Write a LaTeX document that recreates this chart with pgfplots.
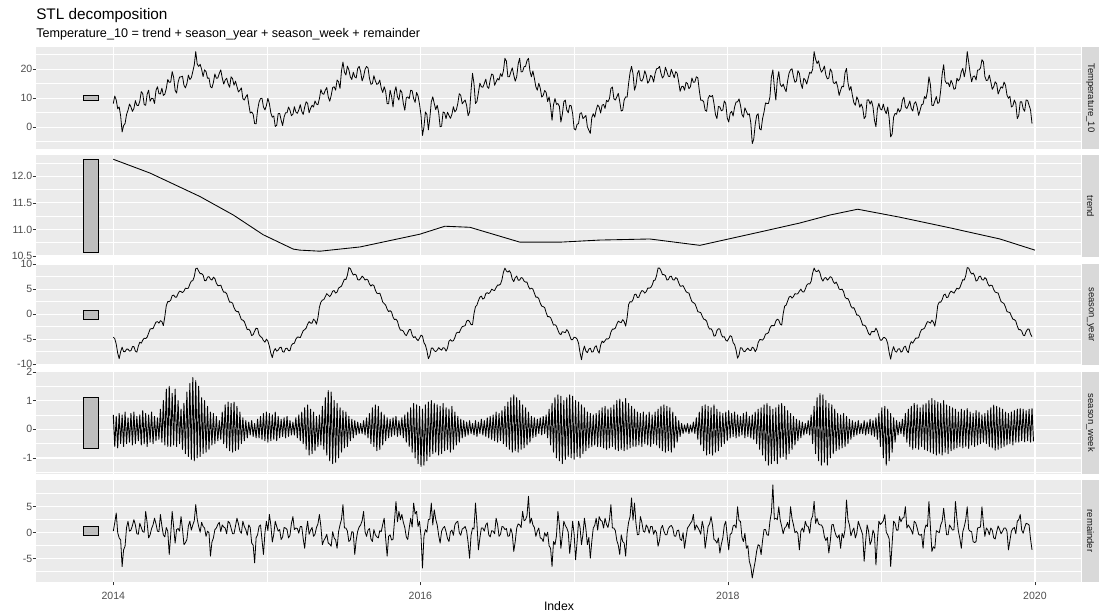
\documentclass[border=0pt]{standalone}
\usepackage{fontspec}
\setmainfont{Liberation Sans}
\usepackage{pgfplots}
\usepackage{pgfplotstable}
\pgfplotsset{compat=1.18}
\definecolor{panelbg}{HTML}{EBEBEB}
\definecolor{stripbg}{HTML}{D9D9D9}
\definecolor{barfill}{HTML}{BEBEBE}
\definecolor{ticklab}{HTML}{4D4D4D}
\definecolor{tickcol}{HTML}{333333}
\definecolor{stripfg}{HTML}{1A1A1A}

% Temperature_10, two values per week from 2014-01-01 (x in weeks = row/2)
\pgfplotstableread[row sep=\\]{v\\
8.2\\ 10.8\\ 9.4\\ 6.4\\ 7.0\\ 3.9\\ -1.6\\ 0.6\\ 1.3\\ 4.4\\
5.9\\ 8.0\\ 7.0\\ 5.5\\ 6.5\\ 9.2\\ 7.6\\ 7.5\\ 9.0\\ 12.3\\
11.6\\ 7.8\\ 7.6\\ 11.4\\ 12.8\\ 9.0\\ 10.0\\ 9.9\\ 8.2\\ 12.7\\
14.0\\ 11.6\\ 11.5\\ 13.5\\ 11.0\\ 11.4\\ 13.4\\ 16.5\\ 15.5\\ 15.6\\
19.2\\ 17.2\\ 12.8\\ 11.8\\ 15.5\\ 17.3\\ 17.4\\ 17.6\\ 14.5\\ 13.6\\
15.1\\ 18.0\\ 16.5\\ 17.1\\ 19.2\\ 21.5\\ 26.1\\ 21.8\\ 21.0\\ 21.7\\
20.0\\ 17.5\\ 19.8\\ 19.2\\ 16.9\\ 17.0\\ 14.0\\ 13.6\\ 15.5\\ 18.4\\
16.9\\ 17.0\\ 18.6\\ 19.8\\ 17.0\\ 14.9\\ 16.3\\ 16.9\\ 15.0\\ 13.8\\
17.4\\ 16.8\\ 14.5\\ 15.9\\ 14.0\\ 12.2\\ 12.8\\ 13.6\\ 9.9\\ 9.4\\
10.5\\ 11.3\\ 8.0\\ 4.9\\ 5.3\\ 4.5\\ 1.3\\ 1.2\\ 5.9\\ 8.7\\
9.9\\ 10.0\\ 7.0\\ 6.0\\ 7.5\\ 10.0\\ 8.2\\ 5.0\\ 3.5\\ 3.9\\
0.3\\ 0.7\\ 4.7\\ 4.8\\ 2.5\\ 0.6\\ 3.5\\ 5.0\\ 5.0\\ 7.0\\
5.9\\ 4.0\\ 4.5\\ 7.1\\ 5.3\\ 4.8\\ 6.0\\ 7.8\\ 5.5\\ 4.4\\
7.0\\ 8.8\\ 8.2\\ 5.0\\ 6.5\\ 7.6\\ 7.0\\ 9.1\\ 8.0\\ 7.8\\
9.9\\ 13.0\\ 11.6\\ 11.4\\ 12.8\\ 13.7\\ 10.5\\ 9.0\\ 11.0\\ 13.7\\
14.0\\ 12.8\\ 16.3\\ 15.7\\ 13.4\\ 19.5\\ 22.5\\ 19.0\\ 18.0\\ 21.1\\
19.8\\ 17.4\\ 16.5\\ 19.0\\ 17.4\\ 17.0\\ 20.3\\ 21.0\\ 19.2\\ 16.0\\
17.5\\ 20.0\\ 21.0\\ 20.5\\ 16.9\\ 14.8\\ 15.1\\ 17.8\\ 16.0\\ 14.8\\
15.1\\ 16.3\\ 13.5\\ 12.0\\ 14.0\\ 12.3\\ 8.2\\ 8.1\\ 12.8\\ 10.7\\
7.0\\ 12.1\\ 14.0\\ 10.5\\ 9.4\\ 12.9\\ 12.0\\ 8.2\\ 5.9\\ 10.2\\
10.5\\ 9.9\\ 12.8\\ 12.6\\ 9.9\\ 8.6\\ 12.0\\ 10.8\\ 8.0\\ 4.2\\
-2.8\\ 0.1\\ 5.3\\ 4.4\\ -0.9\\ 3.2\\ 8.8\\ 10.5\\ 8.2\\ 6.1\\
7.6\\ 5.1\\ 0.2\\ 0.4\\ 5.3\\ 5.0\\ 3.0\\ 5.2\\ 4.1\\ 3.1\\
4.5\\ 7.1\\ 5.3\\ 6.0\\ 8.2\\ 11.6\\ 11.0\\ 8.1\\ 8.8\\ 9.4\\
7.5\\ 4.0\\ 5.3\\ 12.8\\ 18.6\\ 15.0\\ 8.2\\ 8.9\\ 12.0\\ 15.2\\
14.0\\ 13.8\\ 15.1\\ 16.6\\ 14.0\\ 13.4\\ 16.3\\ 18.4\\ 18.0\\ 14.5\\
15.7\\ 16.8\\ 16.3\\ 18.5\\ 17.5\\ 19.5\\ 23.8\\ 22.8\\ 17.4\\ 17.4\\
19.0\\ 20.5\\ 18.0\\ 15.9\\ 17.4\\ 21.8\\ 23.8\\ 19.1\\ 19.2\\ 20.9\\
21.0\\ 23.0\\ 23.8\\ 19.4\\ 17.4\\ 19.4\\ 16.9\\ 14.0\\ 12.8\\ 15.2\\
13.5\\ 10.4\\ 11.0\\ 12.7\\ 12.0\\ 8.9\\ 10.5\\ 7.3\\ 2.4\\ 7.8\\
9.9\\ 7.9\\ 8.2\\ 7.2\\ 1.8\\ 4.5\\ 8.8\\ 9.4\\ 6.0\\ 5.0\\
7.6\\ 7.4\\ 4.7\\ -0.5\\ -0.9\\ 1.0\\ 1.3\\ 4.8\\ 5.0\\ 3.0\\
3.5\\ 4.1\\ 0.2\\ -1.0\\ -2.1\\ 3.3\\ 4.7\\ 3.5\\ 6.0\\ 7.7\\
7.0\\ 4.9\\ 7.6\\ 7.9\\ 6.5\\ 9.3\\ 8.8\\ 9.9\\ 13.4\\ 13.9\\
9.9\\ 9.4\\ 10.5\\ 11.7\\ 8.8\\ 5.6\\ 5.9\\ 9.4\\ 10.5\\ 10.4\\
15.1\\ 18.9\\ 21.0\\ 18.5\\ 12.8\\ 14.5\\ 18.6\\ 19.6\\ 16.3\\ 15.9\\
17.0\\ 19.5\\ 18.0\\ 15.2\\ 16.0\\ 17.9\\ 17.4\\ 15.6\\ 18.5\\ 20.2\\
20.3\\ 21.0\\ 18.6\\ 17.0\\ 17.8\\ 20.7\\ 19.2\\ 17.6\\ 17.5\\ 20.0\\
18.6\\ 17.1\\ 19.2\\ 18.6\\ 15.7\\ 12.4\\ 14.0\\ 14.2\\ 12.8\\ 15.5\\
15.1\\ 13.3\\ 14.0\\ 17.0\\ 15.5\\ 15.6\\ 17.4\\ 17.1\\ 12.8\\ 9.3\\
9.4\\ 8.8\\ 5.9\\ 5.5\\ 9.9\\ 11.0\\ 10.5\\ 11.0\\ 8.2\\ 4.4\\
3.0\\ 7.2\\ 7.0\\ 5.7\\ 6.0\\ 9.1\\ 8.2\\ 3.2\\ 1.8\\ 4.9\\
5.5\\ 3.9\\ 7.0\\ 8.7\\ 8.8\\ 9.8\\ 7.6\\ 4.4\\ 3.5\\ 6.7\\
5.5\\ 4.3\\ 4.7\\ 1.6\\ -5.6\\ -4.1\\ 1.0\\ 4.1\\ 4.7\\ -0.5\\
-0.9\\ 3.0\\ 5.3\\ 8.4\\ 8.2\\ 8.2\\ 10.5\\ 17.4\\ 19.8\\ 13.8\\
9.4\\ 16.3\\ 19.2\\ 14.8\\ 14.0\\ 14.9\\ 13.4\\ 12.3\\ 16.0\\ 18.7\\
19.8\\ 20.2\\ 17.4\\ 15.5\\ 16.0\\ 19.5\\ 18.6\\ 15.2\\ 13.4\\ 16.9\\
16.3\\ 14.9\\ 17.0\\ 19.0\\ 18.6\\ 20.0\\ 26.1\\ 23.5\\ 22.0\\ 22.9\\
20.5\\ 19.0\\ 19.8\\ 21.1\\ 18.0\\ 16.7\\ 17.0\\ 20.1\\ 19.2\\ 15.4\\
15.1\\ 15.8\\ 14.0\\ 11.0\\ 12.8\\ 14.2\\ 14.0\\ 18.8\\ 20.3\\ 15.4\\
12.8\\ 14.1\\ 11.0\\ 8.5\\ 7.6\\ 10.5\\ 9.4\\ 6.9\\ 8.0\\ 6.7\\
3.0\\ 3.8\\ 9.4\\ 9.5\\ 8.0\\ 9.1\\ 7.0\\ 2.4\\ 0.2\\ 6.4\\
8.2\\ 6.3\\ 6.0\\ 8.0\\ 5.9\\ 4.7\\ 7.0\\ 3.1\\ -3.3\\ -2.3\\
3.5\\ 4.8\\ 4.5\\ 6.5\\ 5.3\\ 6.2\\ 9.4\\ 10.4\\ 7.0\\ 6.5\\
7.6\\ 9.1\\ 6.5\\ 5.6\\ 8.2\\ 8.8\\ 7.0\\ 4.1\\ 5.9\\ 7.8\\
8.0\\ 10.6\\ 9.9\\ 12.5\\ 17.4\\ 14.7\\ 7.6\\ 7.5\\ 9.0\\ 10.6\\
8.2\\ 8.7\\ 12.8\\ 18.4\\ 21.6\\ 16.0\\ 15.1\\ 15.4\\ 14.0\\ 16.2\\
15.1\\ 13.1\\ 13.4\\ 16.9\\ 16.0\\ 16.8\\ 19.2\\ 20.3\\ 17.4\\ 20.0\\
26.1\\ 22.5\\ 18.6\\ 15.7\\ 17.5\\ 17.7\\ 16.3\\ 19.7\\ 19.8\\ 20.4\\
23.3\\ 22.6\\ 17.5\\ 16.1\\ 16.3\\ 18.0\\ 15.7\\ 13.1\\ 14.0\\ 15.7\\
15.0\\ 11.5\\ 12.8\\ 14.0\\ 13.5\\ 15.6\\ 14.5\\ 11.1\\ 10.0\\ 10.7\\
7.0\\ 7.4\\ 9.4\\ 8.2\\ 3.0\\ 4.1\\ 8.8\\ 8.8\\ 6.4\\ 5.5\\
9.4\\ 9.3\\ 7.6\\ 6.0\\ 1.3\\
}\Ttab

% season_year, two values per week
\pgfplotstableread[row sep=\\]{v\\
-4.6\\ -4.9\\ -6.0\\ -7.8\\ -8.9\\ -7.5\\ -6.6\\ -7.5\\ -7.5\\ -7.0\\
-7.0\\ -7.4\\ -7.3\\ -6.5\\ -6.5\\ -7.4\\ -7.6\\ -6.4\\ -5.6\\ -5.8\\
-5.2\\ -4.8\\ -4.9\\ -4.6\\ -3.8\\ -3.0\\ -2.9\\ -2.9\\ -2.2\\ -1.6\\
-1.5\\ -1.8\\ -1.3\\ -1.5\\ -2.3\\ -0.5\\ 1.7\\ 2.5\\ 2.5\\ 2.8\\
3.7\\ 3.8\\ 3.4\\ 3.4\\ 4.1\\ 4.6\\ 4.5\\ 4.3\\ 4.6\\ 5.2\\
5.1\\ 5.2\\ 6.0\\ 6.6\\ 6.7\\ 7.5\\ 9.1\\ 9.2\\ 8.6\\ 8.1\\
8.1\\ 7.8\\ 6.7\\ 6.7\\ 7.4\\ 7.5\\ 7.0\\ 6.8\\ 7.4\\ 7.1\\
6.2\\ 5.7\\ 5.7\\ 5.8\\ 5.0\\ 4.4\\ 4.4\\ 4.1\\ 3.2\\ 2.4\\
2.4\\ 2.2\\ 1.3\\ 0.7\\ 0.5\\ 0.5\\ -0.3\\ -1.1\\ -1.2\\ -1.5\\
-2.3\\ -3.1\\ -3.0\\ -3.4\\ -4.3\\ -4.1\\ -3.4\\ -2.8\\ -2.9\\ -4.1\\
-4.5\\ -4.7\\ -5.3\\ -5.6\\
-5.0\\ -5.4\\ -6.4\\ -7.8\\ -8.7\\ -7.4\\ -6.9\\ -7.4\\ -7.2\\ -6.7\\
-6.6\\ -7.5\\ -7.6\\ -6.9\\ -6.8\\ -7.3\\ -7.3\\ -6.2\\ -5.9\\ -5.8\\
-5.0\\ -4.6\\ -4.6\\ -4.7\\ -4.0\\ -3.3\\ -3.1\\ -2.8\\ -2.0\\ -1.5\\
-1.8\\ -1.8\\ -1.0\\ -1.3\\ -2.0\\ -0.7\\ 1.4\\ 2.4\\ 2.8\\ 2.9\\
3.5\\ 4.1\\ 3.8\\ 3.5\\ 3.9\\ 4.6\\ 4.7\\ 4.2\\ 4.4\\ 5.2\\
5.4\\ 5.6\\ 6.3\\ 7.0\\ 6.9\\ 7.8\\ 9.3\\ 9.1\\ 8.4\\ 7.8\\
8.0\\ 7.8\\ 6.9\\ 6.8\\ 7.1\\ 7.6\\ 7.3\\ 6.8\\ 7.0\\ 6.8\\
6.0\\ 5.6\\ 5.9\\ 5.7\\ 4.8\\ 4.2\\ 4.1\\ 4.2\\ 3.4\\ 2.4\\
2.1\\ 1.8\\ 1.0\\ 0.5\\ 0.7\\ 0.4\\ -0.6\\ -1.1\\ -1.0\\ -1.4\\
-2.5\\ -3.2\\ -3.2\\ -3.4\\ -4.0\\ -4.3\\ -3.7\\ -3.1\\ -3.1\\ -4.2\\
-4.7\\ -4.5\\ -5.0\\ -5.3\\
-4.8\\ -4.2\\ -4.4\\ -5.7\\ -6.2\\ -7.3\\ -8.9\\ -8.3\\ -6.8\\ -6.8\\
-7.3\\ -7.5\\ -7.2\\ -6.7\\ -7.0\\ -7.2\\ -6.7\\ -6.8\\ -7.4\\ -6.8\\
-5.4\\ -5.1\\ -5.4\\ -5.3\\ -4.7\\ -3.8\\ -3.6\\ -3.7\\ -3.0\\ -2.5\\
-2.4\\ -2.3\\ -1.4\\ -1.2\\ -1.5\\ -2.1\\ -2.1\\ 0.1\\ 1.5\\ 1.8\\
2.7\\ 3.4\\ 3.6\\ 3.0\\ 3.2\\ 4.1\\ 4.3\\ 4.1\\ 4.4\\ 5.0\\
4.8\\ 4.7\\ 5.3\\ 5.8\\ 5.8\\ 6.0\\ 6.9\\ 8.4\\ 9.2\\ 8.6\\
8.4\\ 8.7\\ 8.2\\ 7.0\\ 6.5\\ 7.3\\ 7.6\\ 6.8\\ 6.8\\ 7.3\\
7.2\\ 6.6\\ 6.4\\ 6.4\\ 5.5\\ 5.0\\ 5.2\\ 5.0\\ 4.2\\ 3.4\\
3.4\\ 3.1\\ 2.2\\ 1.6\\ 1.5\\ 1.3\\ 0.3\\ -0.5\\ -0.5\\ -0.7\\
-1.4\\ -2.2\\ -2.1\\ -2.4\\ -3.2\\ -3.9\\ -4.1\\ -3.5\\ -3.6\\ -3.7\\
-3.1\\ -3.5\\ -4.3\\ -5.1\\ -5.1\\ -4.6\\
-4.7\\ -5.0\\ -5.8\\ -7.7\\ -9.1\\ -7.4\\ -6.4\\ -7.4\\ -7.7\\ -7.0\\
-6.8\\ -7.6\\ -7.5\\ -6.6\\ -6.3\\ -7.3\\ -7.8\\ -6.2\\ -5.4\\ -5.7\\
-5.3\\ -4.9\\ -5.0\\ -4.7\\ -3.6\\ -3.0\\ -3.0\\ -2.8\\ -2.0\\ -1.4\\
-1.6\\ -1.7\\ -1.1\\ -1.5\\ -2.4\\ -0.7\\ 1.9\\ 2.5\\ 2.4\\ 2.9\\
3.9\\ 4.0\\ 3.3\\ 3.4\\ 4.2\\ 4.7\\ 4.6\\ 4.2\\ 4.5\\ 5.2\\
5.2\\ 5.3\\ 5.8\\ 6.7\\ 6.8\\ 7.7\\ 9.2\\ 9.2\\ 8.7\\ 7.9\\
7.9\\ 7.7\\ 6.8\\ 6.9\\ 7.5\\ 7.6\\ 6.9\\ 6.8\\ 7.3\\ 7.1\\
6.3\\ 5.6\\ 5.6\\ 5.7\\ 5.1\\ 4.5\\ 4.3\\ 4.2\\ 3.3\\ 2.5\\
2.3\\ 2.1\\ 1.4\\ 0.5\\ 0.4\\ 0.3\\ -0.4\\ -1.0\\ -1.1\\ -1.4\\
-2.4\\ -3.0\\ -2.9\\ -3.4\\ -4.4\\ -4.3\\ -3.3\\ -2.9\\ -3.0\\ -4.1\\
-4.6\\ -4.5\\ -5.2\\ -5.4\\
-4.9\\ -4.3\\ -4.5\\ -5.7\\ -6.1\\ -7.2\\ -8.8\\ -8.2\\ -6.7\\ -6.8\\
-7.4\\ -7.5\\ -7.1\\ -6.8\\ -7.2\\ -7.3\\ -6.6\\ -6.8\\ -7.5\\ -7.0\\
-5.7\\ -5.1\\ -5.1\\ -5.2\\ -4.8\\ -4.0\\ -3.9\\ -3.7\\ -2.8\\ -2.3\\
-2.3\\ -2.3\\ -1.4\\ -1.0\\ -1.2\\ -2.0\\ -2.2\\ 0.1\\ 1.6\\ 1.8\\
2.6\\ 3.4\\ 3.6\\ 3.2\\ 3.5\\ 4.1\\ 4.0\\ 4.1\\ 4.6\\ 5.0\\
4.5\\ 4.4\\ 5.0\\ 5.8\\ 6.1\\ 6.0\\ 6.6\\ 8.2\\ 9.2\\ 8.6\\
8.5\\ 8.8\\ 8.2\\ 7.1\\ 6.6\\ 7.2\\ 7.3\\ 6.8\\ 7.1\\ 7.5\\
7.3\\ 6.5\\ 6.1\\ 6.4\\ 5.8\\ 5.0\\ 4.9\\ 5.0\\ 4.5\\ 3.4\\
3.1\\ 3.1\\ 2.5\\ 1.6\\ 1.2\\ 1.3\\ 0.6\\ -0.2\\ -0.2\\ -0.5\\
-1.3\\ -2.2\\ -2.2\\ -2.4\\ -3.1\\ -3.9\\ -4.2\\ -3.5\\ -3.5\\ -3.5\\
-2.8\\ -3.4\\ -4.4\\ -5.2\\ -5.2\\ -4.7\\
-4.7\\ -5.0\\ -5.9\\ -7.7\\ -9.0\\ -7.4\\ -6.5\\ -7.4\\ -7.6\\ -7.0\\
-6.9\\ -7.6\\ -7.4\\ -6.6\\ -6.4\\ -7.3\\ -7.7\\ -6.2\\ -5.5\\ -5.8\\
-5.3\\ -4.8\\ -4.8\\ -4.7\\ -3.7\\ -3.1\\ -3.0\\ -2.8\\ -2.1\\ -1.5\\
-1.6\\ -1.8\\ -1.2\\ -1.6\\ -2.4\\ -0.7\\ 1.8\\ 2.4\\ 2.4\\ 2.9\\
3.8\\ 4.0\\ 3.3\\ 3.4\\ 4.2\\ 4.6\\ 4.4\\ 4.2\\ 4.7\\ 5.2\\
5.0\\ 5.3\\ 6.1\\ 6.9\\ 6.8\\ 7.7\\ 9.3\\ 9.2\\ 8.5\\ 8.0\\
8.2\\ 7.7\\ 6.6\\ 6.8\\ 7.5\\ 7.6\\ 6.9\\ 6.8\\ 7.3\\ 7.0\\
6.1\\ 5.6\\ 5.8\\ 5.7\\ 4.9\\ 4.4\\ 4.3\\ 4.2\\ 3.3\\ 2.5\\
2.3\\ 2.1\\ 1.4\\ 0.5\\ 0.4\\ 0.3\\ -0.4\\ -1.0\\ -1.1\\ -1.4\\
-2.4\\ -3.1\\ -3.1\\ -3.4\\ -4.2\\ -4.3\\ -3.5\\ -3.0\\ -3.0\\ -4.0\\
-4.5\\
}\Stab

% remainder, two values per week
\pgfplotstableread[row sep=\\]{v\\
0.3\\ 1.9\\ 3.8\\ 0.0\\ -1.0\\ -1.4\\ -6.5\\ -3.3\\ -2.6\\ 1.0\\
2.2\\ 0.3\\ 0.5\\ 1.4\\ 2.5\\ 1.5\\ -0.2\\ -0.3\\ 1.8\\ 1.0\\
0.2\\ 0.1\\ 4.1\\ 1.9\\ -1.0\\ -0.4\\ 0.8\\ 1.5\\ 2.8\\ 1.7\\
0.3\\ 0.2\\ 3.5\\ 1.3\\ -0.4\\ -0.8\\ 1.0\\ 0.3\\ -4.2\\ -0.4\\
4.1\\ 1.1\\ -2.0\\ 0.6\\ 0.8\\ 0.3\\ 3.1\\ 0.7\\ -2.3\\ -1.9\\
-1.3\\ 1.3\\ 2.2\\ 0.5\\ 1.5\\ 2.3\\ 5.4\\ 2.6\\ 1.2\\ 0.1\\
2.0\\ 1.2\\ 0.9\\ -0.7\\ 0.3\\ 0.0\\ -4.5\\ -1.8\\ -1.0\\ 0.6\\
0.9\\ 1.6\\ 2.0\\ 0.2\\ 1.5\\ 1.1\\ 0.9\\ -0.2\\ 2.2\\ 1.9\\
0.9\\ -0.2\\ -0.2\\ 1.3\\ 2.8\\ 1.7\\ 0.3\\ -0.1\\ 2.2\\ 1.2\\
0.6\\ -0.5\\ 1.5\\ 1.0\\ -2.0\\ -2.4\\ -5.8\\ -1.0\\ -0.4\\ 1.2\\
1.5\\ -1.4\\ -4.2\\ 0.0\\ 2.2\\ 0.4\\ 3.5\\ 1.5\\ -1.8\\ -0.3\\
2.2\\ 1.2\\ 0.3\\ 0.6\\ -1.3\\ -0.8\\ 1.0\\ 0.9\\ 0.6\\ -1.0\\
-0.5\\ 1.8\\ 3.1\\ 0.6\\ 0.9\\ 0.8\\ -0.1\\ 1.2\\ 1.2\\ -1.2\\
-3.0\\ 0.3\\ 2.2\\ -0.3\\ 0.5\\ 1.0\\ -0.7\\ -0.3\\ 1.0\\ 1.7\\
3.5\\ 1.2\\ -2.3\\ -1.5\\ -1.0\\ -0.3\\ -2.0\\ -2.2\\ -2.6\\ 0.2\\
-1.0\\ -1.4\\ -3.0\\ 0.2\\ 1.5\\ 2.6\\ 5.4\\ 0.9\\ 0.9\\ 0.3\\
-1.7\\ -1.4\\ 0.2\\ 0.1\\ -4.2\\ -1.4\\ 0.3\\ 1.1\\ 1.5\\ 2.3\\
4.1\\ 0.2\\ -0.7\\ 0.5\\ 0.8\\ -1.2\\ -1.7\\ 0.6\\ -0.4\\ -0.8\\
-1.0\\ 0.4\\ 0.2\\ 1.6\\ 2.8\\ -1.1\\ -4.5\\ -0.7\\ -0.4\\ -1.4\\
-1.3\\ 2.3\\ 6.0\\ 2.1\\ 4.1\\ 2.5\\ 3.5\\ 2.0\\ 1.0\\ -0.8\\
-1.3\\ 0.9\\ 2.8\\ 1.1\\ 5.7\\ 3.6\\ 4.1\\ 1.2\\ 2.2\\ -0.6\\
-6.8\\ -0.7\\ 0.6\\ 0.1\\ 2.5\\ 2.6\\ 5.7\\ 1.5\\ 4.4\\ 2.6\\
1.5\\ -0.5\\ -2.0\\ 0.3\\ 0.9\\ 1.2\\ 0.2\\ -1.1\\ -1.7\\ 0.2\\
0.5\\ -0.5\\ 1.5\\ 2.0\\ 2.2\\ 0.0\\ -0.5\\ 0.7\\ 0.9\\ 1.2\\
0.3\\ -1.9\\ -4.9\\ -0.5\\ 0.9\\ 0.7\\ 5.7\\ 1.7\\ -3.3\\ -1.0\\
0.9\\ 0.9\\ 0.3\\ 1.5\\ 1.9\\ -0.4\\ -0.8\\ 0.4\\ 0.3\\ -0.2\\
2.8\\ 1.6\\ -0.7\\ -0.3\\ 1.2\\ 1.1\\ 0.6\\ 0.8\\ -0.7\\ -0.6\\
0.8\\ -0.2\\ -3.6\\ -1.7\\ 0.9\\ 1.7\\ 1.5\\ 1.0\\ 4.1\\ 2.3\\
2.5\\ 3.3\\ 7.0\\ 1.8\\ 2.8\\ 1.5\\ 1.0\\ -0.7\\ 0.3\\ 0.9\\
-1.0\\ -1.1\\ -1.7\\ 0.0\\ -0.7\\ 0.1\\ -2.5\\ -3.0\\ -6.5\\ -1.7\\
-2.3\\ -0.6\\ 4.1\\ 1.4\\ -3.0\\ -0.6\\ 2.2\\ 1.4\\ 0.9\\ 0.1\\
-4.0\\ -1.2\\ 2.2\\ -0.3\\ -5.2\\ -1.8\\ 2.2\\ 1.1\\ -2.3\\ -0.3\\
2.8\\ 0.7\\ -2.3\\ -0.9\\ -4.9\\ -1.7\\ 0.9\\ 1.4\\ 2.8\\ 0.5\\
3.1\\ 2.4\\ 2.2\\ 0.9\\ 2.8\\ 1.6\\ 1.0\\ 2.5\\ 5.4\\ 0.9\\
0.9\\ 0.4\\ -1.5\\ -2.4\\ -4.2\\ -0.4\\ -1.7\\ -2.0\\ -4.5\\ 0.0\\
2.0\\ 3.1\\ 6.7\\ 2.4\\ 5.7\\ 1.8\\ -0.4\\ -0.3\\ 3.1\\ 2.0\\
0.3\\ 0.1\\ 1.5\\ 1.0\\ -0.1\\ 1.2\\ 1.2\\ -0.3\\ 0.5\\ 0.0\\
-2.6\\ -1.5\\ 0.8\\ 1.4\\ 0.3\\ -0.4\\ -0.4\\ 0.8\\ 1.2\\ 1.4\\
0.9\\ -0.6\\ -0.7\\ 0.4\\ 0.5\\ -1.2\\ -1.5\\ 0.0\\ -3.0\\ -0.9\\
0.9\\ 1.3\\ 1.8\\ 2.2\\ 3.5\\ 0.5\\ 1.5\\ 1.0\\ 0.5\\ -0.3\\
2.2\\ 0.9\\ -3.0\\ -0.9\\ 1.2\\ 1.7\\ 3.1\\ 1.4\\ -1.3\\ -1.5\\
-2.0\\ -1.0\\ -3.9\\ -2.2\\ -1.0\\ 1.4\\ 2.2\\ -0.7\\ -3.3\\ -0.3\\
-0.1\\ 1.3\\ 1.5\\ 0.9\\ 5.0\\ 2.3\\ 2.2\\ -0.9\\ -1.7\\ -0.1\\
-3.0\\ -2.5\\ -5.5\\ -6.5\\ -8.7\\ -7.0\\ -5.5\\ -3.5\\ -2.3\\ -2.5\\
-4.2\\ -1.5\\ 0.6\\ 0.6\\ -0.4\\ -0.5\\ 2.2\\ 3.9\\ 9.2\\ 2.6\\
2.8\\ 2.5\\ 5.0\\ 2.4\\ 1.2\\ -0.2\\ 0.9\\ 1.2\\ 2.0\\ 0.8\\
5.0\\ 2.7\\ 1.5\\ 0.0\\ 0.3\\ -0.2\\ -3.3\\ 0.3\\ 0.9\\ 0.1\\
2.2\\ 1.3\\ 1.2\\ -0.1\\ 2.5\\ 3.2\\ 6.0\\ 1.8\\ 2.8\\ 1.7\\
1.5\\ 1.5\\ 0.9\\ -0.8\\ -1.5\\ -0.9\\ -3.9\\ -1.6\\ 1.5\\ 1.6\\
0.3\\ -0.6\\ -1.0\\ -0.4\\ -3.0\\ -0.1\\ -1.0\\ 0.6\\ 6.3\\ 2.5\\
1.5\\ -0.6\\ 0.3\\ 0.9\\ -1.0\\ -0.1\\ 2.2\\ 1.3\\ 0.5\\ -0.4\\
-5.5\\ -1.7\\ 1.5\\ 0.3\\ -2.3\\ -1.5\\ 0.5\\ -0.3\\ -6.2\\ -1.4\\
2.2\\ 1.6\\ 1.9\\ 2.3\\ 3.5\\ 0.1\\ -0.4\\ -1.2\\ -6.5\\ -2.1\\
2.2\\ 1.8\\ 0.5\\ 0.5\\ 3.1\\ 2.1\\ 2.8\\ 2.9\\ 5.0\\ 0.9\\
1.5\\ 1.0\\ 0.5\\ -0.3\\ 2.2\\ 1.9\\ 0.9\\ -0.3\\ -0.5\\ -0.3\\
-3.0\\ 0.5\\ 1.5\\ 1.2\\ 6.0\\ 1.1\\ -3.6\\ -2.7\\ -3.0\\ 0.4\\
0.2\\ 0.0\\ 1.5\\ 2.2\\ 4.7\\ 2.0\\ -0.4\\ -0.4\\ 1.5\\ 1.0\\
0.5\\ 0.6\\ 6.0\\ 2.7\\ 0.3\\ -1.1\\ -3.0\\ 0.2\\ 1.2\\ 2.5\\
5.0\\ 0.6\\ 0.3\\ 0.2\\ -1.7\\ -1.9\\ -1.7\\ 0.9\\ 1.0\\ 1.1\\
5.0\\ 1.7\\ -0.7\\ 0.9\\ 0.5\\ -0.4\\ 0.9\\ 0.5\\ -1.0\\ -1.2\\
0.2\\ 1.3\\ 0.6\\ -0.2\\ 0.3\\ 0.9\\ 0.9\\ 0.3\\ -3.3\\ -1.5\\
0.3\\ 0.8\\ 1.0\\ -0.2\\ 2.2\\ 2.5\\ 3.5\\ 0.5\\ -0.1\\ 1.0\\
1.8\\ 1.7\\ 1.5\\ -1.2\\ -3.3\\
}\Rtab

% season_week, two values per week (high, low)
\pgfplotstableread[row sep=\\]{v\\
0.5\\ -0.6\\ 0.45\\ -0.65\\ 0.55\\ -0.5\\ 0.5\\ -0.6\\ 0.6\\ -0.5\\ 0.4\\ -0.45\\ 0.55\\ -0.55\\ 0.6\\ -0.5\\ 0.45\\ -0.4\\ 0.5\\ -0.55\\
0.65\\ -0.5\\ 0.55\\ -0.6\\ 0.5\\ -0.45\\ 0.6\\ -0.5\\ 0.45\\ -0.4\\ 0.4\\ -0.35\\ 0.7\\ -0.45\\ 1.0\\ -0.55\\ 1.4\\ -0.6\\ 1.5\\ -0.6\\
1.25\\ -0.55\\ 1.4\\ -0.6\\ 1.0\\ -0.5\\ 0.7\\ -0.7\\ 0.9\\ -0.85\\ 1.3\\ -0.95\\ 1.6\\ -1.05\\ 1.8\\ -1.1\\ 1.7\\ -1.0\\ 1.5\\ -0.95\\
1.1\\ -0.85\\ 1.0\\ -0.8\\ 0.8\\ -0.7\\ 0.6\\ -0.55\\ 0.55\\ -0.5\\ 0.45\\ -0.4\\ 0.3\\ -0.35\\ 0.6\\ -0.5\\ 0.85\\ -0.65\\ 0.95\\ -0.75\\
0.9\\ -0.8\\ 0.95\\ -0.75\\ 0.8\\ -0.7\\ 0.6\\ -0.5\\ 0.4\\ -0.4\\ 0.3\\ -0.3\\ 0.25\\ -0.2\\ 0.3\\ -0.25\\ 0.2\\ -0.3\\ 0.35\\ -0.3\\
0.45\\ -0.35\\ 0.55\\ -0.4\\ 0.6\\ -0.45\\ 0.55\\ -0.4\\ 0.5\\ -0.35\\ 0.6\\ -0.4\\ 0.45\\ -0.3\\ 0.35\\ -0.25\\ 0.4\\ -0.3\\ 0.45\\ -0.25\\
0.3\\ -0.2\\ 0.25\\ -0.2\\ 0.4\\ -0.3\\ 0.5\\ -0.4\\ 0.6\\ -0.5\\ 0.75\\ -0.7\\ 0.85\\ -0.9\\ 0.7\\ -0.85\\ 0.6\\ -0.75\\ 0.45\\ -0.6\\
0.5\\ -0.55\\ 0.8\\ -0.7\\ 1.1\\ -0.9\\ 1.35\\ -1.1\\ 1.3\\ -1.2\\ 1.0\\ -1.15\\ 0.9\\ -1.0\\ 0.75\\ -0.8\\ 0.65\\ -0.65\\ 0.6\\ -0.6\\
0.45\\ -0.4\\ 0.35\\ -0.3\\ 0.3\\ -0.2\\ 0.25\\ -0.15\\ 0.2\\ -0.15\\ 0.3\\ -0.2\\ 0.4\\ -0.3\\ 0.55\\ -0.5\\ 0.75\\ -0.6\\ 0.85\\ -0.75\\
0.8\\ -0.7\\ 0.6\\ -0.55\\ 0.5\\ -0.4\\ 0.4\\ -0.3\\ 0.35\\ -0.25\\ 0.4\\ -0.2\\ 0.45\\ -0.25\\ 0.3\\ -0.2\\ 0.4\\ -0.3\\ 0.5\\ -0.45\\
0.6\\ -0.6\\ 0.75\\ -0.8\\ 0.9\\ -1.0\\ 0.85\\ -1.2\\ 0.8\\ -1.3\\ 0.7\\ -1.25\\ 0.85\\ -1.1\\ 0.95\\ -0.95\\ 1.0\\ -0.85\\ 0.9\\ -0.8\\
0.85\\ -0.9\\ 0.8\\ -0.85\\ 0.9\\ -0.75\\ 0.75\\ -0.7\\ 0.7\\ -0.8\\ 0.8\\ -0.7\\ 0.6\\ -0.55\\ 0.45\\ -0.45\\ 0.35\\ -0.3\\ 0.3\\ -0.25\\
0.25\\ -0.2\\ 0.3\\ -0.15\\ 0.2\\ -0.2\\ 0.3\\ -0.25\\ 0.25\\ -0.15\\ 0.35\\ -0.2\\ 0.3\\ -0.25\\ 0.4\\ -0.3\\ 0.45\\ -0.35\\ 0.5\\ -0.4\\
0.6\\ -0.45\\ 0.55\\ -0.4\\ 0.65\\ -0.5\\ 0.8\\ -0.6\\ 0.95\\ -0.7\\ 1.1\\ -0.8\\ 1.2\\ -0.75\\ 1.1\\ -0.8\\ 1.0\\ -0.7\\ 0.85\\ -0.65\\
0.75\\ -0.55\\ 0.6\\ -0.45\\ 0.45\\ -0.3\\ 0.4\\ -0.25\\ 0.35\\ -0.15\\ 0.4\\ -0.2\\ 0.45\\ -0.15\\ 0.5\\ -0.3\\ 0.7\\ -0.55\\ 0.9\\ -0.8\\
1.1\\ -1.0\\ 1.2\\ -1.1\\ 1.15\\ -1.2\\ 1.0\\ -1.05\\ 1.1\\ -0.95\\ 1.2\\ -1.0\\ 1.15\\ -1.05\\ 1.0\\ -0.95\\ 0.95\\ -1.0\\ 0.85\\ -0.85\\
0.75\\ -0.75\\ 0.6\\ -0.65\\ 0.55\\ -0.6\\ 0.5\\ -0.55\\ 0.55\\ -0.6\\ 0.65\\ -0.6\\ 0.75\\ -0.65\\ 0.8\\ -0.7\\ 0.7\\ -0.65\\ 0.75\\ -0.6\\
0.85\\ -0.7\\ 1.0\\ -0.75\\ 1.05\\ -0.7\\ 0.95\\ -0.75\\ 1.07\\ -0.7\\ 0.9\\ -0.65\\ 0.8\\ -0.6\\ 0.7\\ -0.6\\ 0.6\\ -0.55\\ 0.55\\ -0.6\\
0.6\\ -0.5\\ 0.5\\ -0.55\\ 0.6\\ -0.6\\ 0.5\\ -0.5\\ 0.6\\ -0.55\\ 0.7\\ -0.65\\ 0.8\\ -0.75\\ 0.85\\ -0.8\\ 0.8\\ -0.75\\ 0.75\\ -0.8\\
0.6\\ -0.65\\ 0.45\\ -0.45\\ 0.3\\ -0.25\\ 0.2\\ -0.15\\ 0.15\\ -0.1\\ 0.2\\ -0.15\\ 0.15\\ -0.1\\ 0.25\\ -0.15\\ 0.4\\ -0.35\\ 0.6\\ -0.55\\
0.8\\ -0.75\\ 0.85\\ -0.9\\ 0.8\\ -0.85\\ 0.75\\ -0.9\\ 0.85\\ -0.8\\ 0.7\\ -0.75\\ 0.6\\ -0.6\\ 0.55\\ -0.5\\ 0.6\\ -0.4\\ 0.65\\ -0.3\\
0.55\\ -0.25\\ 0.6\\ -0.3\\ 0.5\\ -0.25\\ 0.45\\ -0.2\\ 0.55\\ -0.3\\ 0.6\\ -0.25\\ 0.45\\ -0.3\\ 0.5\\ -0.35\\ 0.6\\ -0.5\\ 0.7\\ -0.7\\
0.75\\ -0.9\\ 0.85\\ -1.1\\ 0.9\\ -1.25\\ 0.8\\ -1.2\\ 0.7\\ -1.1\\ 0.75\\ -1.2\\ 0.85\\ -1.0\\ 0.9\\ -0.95\\ 0.8\\ -1.05\\ 0.65\\ -0.85\\
0.55\\ -0.7\\ 0.45\\ -0.55\\ 0.35\\ -0.4\\ 0.3\\ -0.3\\ 0.25\\ -0.2\\ 0.2\\ -0.15\\ 0.3\\ -0.2\\ 0.5\\ -0.5\\ 0.8\\ -0.85\\ 1.1\\ -1.1\\
1.24\\ -1.25\\ 1.2\\ -1.15\\ 1.0\\ -1.25\\ 0.9\\ -1.0\\ 0.85\\ -0.85\\ 0.7\\ -0.75\\ 0.55\\ -0.7\\ 0.5\\ -0.65\\ 0.55\\ -0.6\\ 0.45\\ -0.5\\
0.35\\ -0.35\\ 0.3\\ -0.25\\ 0.25\\ -0.2\\ 0.3\\ -0.15\\ 0.2\\ -0.15\\ 0.3\\ -0.2\\ 0.25\\ -0.15\\ 0.35\\ -0.2\\ 0.3\\ -0.25\\ 0.4\\ -0.35\\
0.55\\ -0.6\\ 0.75\\ -1.0\\ 0.8\\ -1.25\\ 0.7\\ -1.1\\ 0.55\\ -0.8\\ 0.4\\ -0.45\\ 0.3\\ -0.2\\ 0.25\\ -0.15\\ 0.35\\ -0.25\\ 0.55\\ -0.45\\
0.7\\ -0.6\\ 0.8\\ -0.7\\ 0.9\\ -0.65\\ 0.85\\ -0.7\\ 0.75\\ -0.6\\ 0.85\\ -0.7\\ 0.9\\ -0.75\\ 1.0\\ -0.8\\ 1.07\\ -0.85\\ 1.0\\ -0.9\\
0.95\\ -0.85\\ 0.9\\ -0.9\\ 1.0\\ -0.8\\ 0.85\\ -0.85\\ 0.8\\ -0.75\\ 0.75\\ -0.7\\ 0.7\\ -0.65\\ 0.6\\ -0.6\\ 0.7\\ -0.65\\ 0.65\\ -0.6\\
0.72\\ -0.67\\ 0.6\\ -0.55\\ 0.55\\ -0.6\\ 0.65\\ -0.55\\ 0.6\\ -0.5\\ 0.5\\ -0.45\\ 0.55\\ -0.5\\ 0.65\\ -0.6\\ 0.75\\ -0.65\\ 0.84\\ -0.73\\
0.8\\ -0.7\\ 0.75\\ -0.65\\ 0.7\\ -0.6\\ 0.6\\ -0.55\\ 0.55\\ -0.5\\ 0.6\\ -0.55\\ 0.65\\ -0.45\\ 0.7\\ -0.45\\ 0.72\\ -0.4\\ 0.7\\ -0.44\\
0.65\\ -0.4\\ 0.7\\ -0.45\\ 0.72\\ -0.42\\
}\Wtab

\pgfplotsset{
  stl/.style={
    scale only axis, width=784.1pt, height=76.35pt,
    xmin=-26.25, xmax=328.8,
    axis background/.style={fill=panelbg},
    axis line style={draw=none},
    xmajorgrids, xminorgrids, ymajorgrids, yminorgrids,
    major grid style={white, line width=0.9pt},
    minor grid style={white, line width=0.5pt},
    xtick={0,104.286,208.714,313},
    minor xtick={52.143,156.571,260.857},
    tick pos=left, tick align=outside,
    major tick length=2.6pt, minor tick length=0pt,
    tick style={tickcol, line width=0.5pt},
    yticklabel style={font=\fontsize{7.9}{9}\selectfont, text=ticklab, inner sep=0pt},
    xticklabel style={font=\fontsize{7.9}{9}\selectfont, text=ticklab, inner sep=0pt, yshift=-5pt},
  },
  upper/.style={xticklabels={}, xtick style={draw=none}},
  dline/.style={black, line width=0.6pt, no markers, line join=round},
  rbar/.style={draw=black, fill=barfill, line width=0.4pt, no markers},
}

\begin{document}
\begin{tikzpicture}
\useasboundingbox (0,0) rectangle (824.25pt,-462pt);

\node[anchor=base west, inner sep=0pt, font=\fontsize{11.5}{13}\selectfont] at (27pt,-14.4pt) {STL decomposition};
\node[anchor=base west, inner sep=0pt, font=\fontsize{9.45}{11}\selectfont] at (27pt,-28.5pt) {Temperature\_10 = trend + season\_year + season\_week + remainder};

% Panel 1
\begin{axis}[stl, upper, at={(27pt,-35.25pt)}, anchor=north west,
  ymin=-7.41, ymax=27.69, ytick={0,10,20}, yticklabels={0,10,20}, minor ytick={-5,5,15,25}]
\addplot[rbar] coordinates {(-10.29,9.45) (-4.96,9.45) (-4.96,11.2) (-10.29,11.2)} --cycle;
\addplot[dline] table[x expr=\coordindex*0.5, y=v] {\Ttab};
\end{axis}

% Panel 2
\begin{axis}[stl, upper, at={(27pt,-116.475pt)}, anchor=north west,
  ymin=10.479, ymax=12.395, ytick={10.5,11,11.5,12}, yticklabels={10.5,11.0,11.5,12.0}, minor ytick={10.75,11.25,11.75,12.25}]
\addplot[rbar] coordinates {(-10.29,10.57) (-4.96,10.57) (-4.96,12.32) (-10.29,12.32)} --cycle;
\addplot[dline, line width=0.65pt] coordinates {(0,12.32) (12.5,12.06) (29.4,11.62) (40.8,11.27) (50.9,10.90) (61.1,10.63) (63.4,10.61) (70.2,10.59) (83.8,10.67) (104.1,10.91) (112.6,11.06) (121.1,11.04) (138.1,10.76) (151.7,10.76) (165.3,10.80) (182.2,10.82) (199.2,10.70) (219.5,10.95) (233.1,11.12) (243.3,11.27) (252.8,11.38) (267.1,11.23) (284.1,11.03) (301.1,10.82) (313,10.61)};
\end{axis}

% Panel 3
\begin{axis}[stl, upper, at={(27pt,-197.7pt)}, anchor=north west,
  ymin=-10.25, ymax=10.1, ytick={-10,-5,0,5,10}, yticklabels={-10,-5,0,5,10}, minor ytick={-7.5,-2.5,2.5,7.5}]
\addplot[rbar] coordinates {(-10.29,-1.0) (-4.96,-1.0) (-4.96,0.75) (-10.29,0.75)} --cycle;
\addplot[dline] table[x expr=\coordindex*0.5, y=v] {\Stab};
\end{axis}

% Panel 4
\begin{axis}[stl, upper, at={(27pt,-278.925pt)}, anchor=north west,
  ymin=-1.55, ymax=2.0, ytick={-1,0,1,2}, yticklabels={-1,0,1,2}, minor ytick={-1.5,-0.5,0.5,1.5}]
\addplot[rbar] coordinates {(-10.29,-0.65) (-4.96,-0.65) (-4.96,1.1) (-10.29,1.1)} --cycle;
\addplot[dline, line width=0.7pt] table[x expr=\coordindex*0.5, y=v] {\Wtab};
\end{axis}

% Panel 5
\begin{axis}[stl, at={(27pt,-360.15pt)}, anchor=north west,
  xticklabels={2014,2016,2018,2020},
  ymin=-9.48, ymax=10.1, ytick={-5,0,5}, yticklabels={-5,0,5}, minor ytick={-7.5,-2.5,2.5,7.5}]
\addplot[rbar] coordinates {(-10.29,-0.55) (-4.96,-0.55) (-4.96,1.2) (-10.29,1.2)} --cycle;
\addplot[dline] table[x expr=\coordindex*0.5, y=v] {\Rtab};
\end{axis}

% facet strips
\foreach \t/\b/\lab in {35.25/111.6/Temperature\_10, 116.475/192.825/trend, 197.7/274.05/season\_year, 278.925/355.275/season\_week, 360.15/436.5/remainder}{
  \fill[stripbg] (811.5pt,-\t pt) rectangle (824.25pt,-\b pt);
  \node[rotate=-90, inner sep=0pt, font=\fontsize{7.1}{8}\selectfont, text=stripfg] at (817.9pt,{-(\t+\b)/2*1pt}) {\lab};
}

\node[anchor=base, inner sep=0pt, font=\fontsize{9.2}{11}\selectfont] at (419.25pt,-457.9pt) {Index};
\end{tikzpicture}
\end{document}
